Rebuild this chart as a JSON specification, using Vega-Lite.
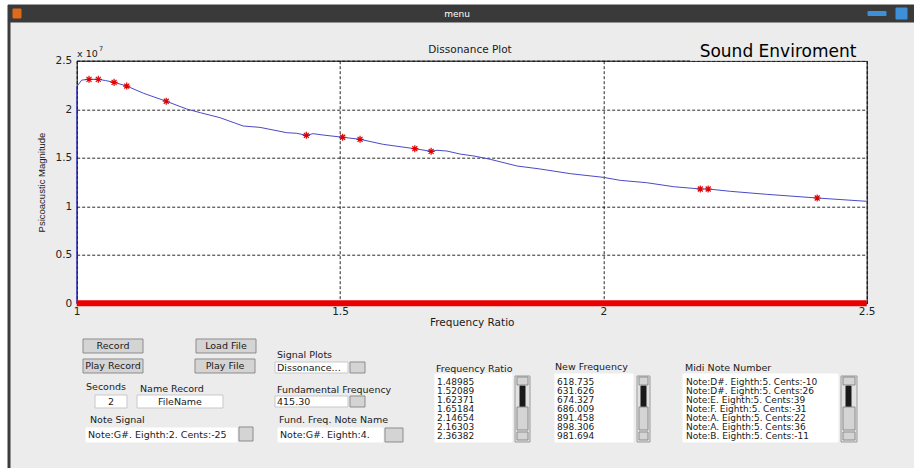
{
  "$schema": "https://vega.github.io/schema/vega-lite/v6.json",
  "autosize": {"type": "none"},
  "width": 790,
  "height": 242.6,
  "padding": {"left": 76.7, "top": 60.7, "right": 47.3, "bottom": 164.7},
  "background": "#ECECEC",
  "config": {
    "view": {"fill": "white", "stroke": "#000000", "strokeWidth": 1},
    "font": "DejaVu Sans",
    "text": {"font": "DejaVu Sans", "baseline": "middle", "color": "#1A1A1A"}
  },
  "datasets": {
    "curve": [
      {"i": 0, "ratio": 1.0, "magnitude": 0},
      {"i": 1, "ratio": 1.0, "magnitude": 22320000},
      {"i": 2, "ratio": 1.0095, "magnitude": 23000000},
      {"i": 3, "ratio": 1.0234, "magnitude": 23080000},
      {"i": 4, "ratio": 1.041, "magnitude": 23080000},
      {"i": 5, "ratio": 1.055, "magnitude": 22950000},
      {"i": 6, "ratio": 1.071, "magnitude": 22770000},
      {"i": 7, "ratio": 1.095, "magnitude": 22390000},
      {"i": 8, "ratio": 1.127, "magnitude": 21640000},
      {"i": 9, "ratio": 1.17, "magnitude": 20820000},
      {"i": 10, "ratio": 1.209, "magnitude": 20020000},
      {"i": 11, "ratio": 1.235, "magnitude": 19640000},
      {"i": 12, "ratio": 1.272, "magnitude": 19130000},
      {"i": 13, "ratio": 1.316, "magnitude": 18270000},
      {"i": 14, "ratio": 1.348, "magnitude": 18130000},
      {"i": 15, "ratio": 1.399, "magnitude": 17580000},
      {"i": 16, "ratio": 1.418, "magnitude": 17520000},
      {"i": 17, "ratio": 1.436, "magnitude": 17310000},
      {"i": 18, "ratio": 1.449, "magnitude": 17480000},
      {"i": 19, "ratio": 1.468, "magnitude": 17340000},
      {"i": 20, "ratio": 1.505, "magnitude": 17110000},
      {"i": 21, "ratio": 1.538, "magnitude": 16900000},
      {"i": 22, "ratio": 1.582, "magnitude": 16380000},
      {"i": 23, "ratio": 1.642, "magnitude": 15930000},
      {"i": 24, "ratio": 1.673, "magnitude": 15660000},
      {"i": 25, "ratio": 1.684, "magnitude": 15770000},
      {"i": 26, "ratio": 1.703, "magnitude": 15690000},
      {"i": 27, "ratio": 1.728, "magnitude": 15380000},
      {"i": 28, "ratio": 1.754, "magnitude": 15180000},
      {"i": 29, "ratio": 1.785, "magnitude": 14840000},
      {"i": 30, "ratio": 1.836, "magnitude": 14150000},
      {"i": 31, "ratio": 1.88, "magnitude": 13840000},
      {"i": 32, "ratio": 1.937, "magnitude": 13360000},
      {"i": 33, "ratio": 2.0, "magnitude": 12980000},
      {"i": 34, "ratio": 2.032, "magnitude": 12670000},
      {"i": 35, "ratio": 2.082, "magnitude": 12430000},
      {"i": 36, "ratio": 2.133, "magnitude": 12020000},
      {"i": 37, "ratio": 2.184, "magnitude": 11780000},
      {"i": 38, "ratio": 2.199, "magnitude": 11780000},
      {"i": 39, "ratio": 2.241, "magnitude": 11540000},
      {"i": 40, "ratio": 2.31, "magnitude": 11230000},
      {"i": 41, "ratio": 2.406, "magnitude": 10850000},
      {"i": 42, "ratio": 2.5, "magnitude": 10510000}
    ],
    "peaks": [
      {"ratio": 1.0234, "magnitude": 23080000},
      {"ratio": 1.041, "magnitude": 23080000},
      {"ratio": 1.071, "magnitude": 22770000},
      {"ratio": 1.095, "magnitude": 22390000},
      {"ratio": 1.17, "magnitude": 20820000},
      {"ratio": 1.436, "magnitude": 17310000},
      {"ratio": 1.505, "magnitude": 17110000},
      {"ratio": 1.538, "magnitude": 16900000},
      {"ratio": 1.642, "magnitude": 15930000},
      {"ratio": 1.673, "magnitude": 15660000},
      {"ratio": 2.184, "magnitude": 11780000},
      {"ratio": 2.199, "magnitude": 11780000},
      {"ratio": 2.406, "magnitude": 10850000}
    ],
    "zeros": [
      {"from": 1.0, "to": 2.5, "magnitude": 0}
    ],
    "boxes": [
      {"x0": 0, "x1": 914, "y0": 0, "y1": 5, "kind": "white"},
      {"x0": 0, "x1": 8, "y0": 0, "y1": 468, "kind": "white"},
      {"x0": 8, "x1": 914, "y0": 5, "y1": 22, "kind": "chrome"},
      {"x0": 8, "x1": 10, "y0": 22, "y1": 468, "kind": "frame"},
      {"x0": 13, "x1": 21, "y0": 9, "y1": 18, "kind": "icon"},
      {"x0": 868, "x1": 886, "y0": 11.5, "y1": 15.5, "kind": "blue"},
      {"x0": 896, "x1": 907, "y0": 8, "y1": 19, "kind": "blue"},
      {"x0": 690, "x1": 867, "y0": 40, "y1": 60.2, "kind": "panel"},
      {"x0": 83, "x1": 143, "y0": 339, "y1": 353, "kind": "button"},
      {"x0": 83, "x1": 143, "y0": 359, "y1": 373, "kind": "button"},
      {"x0": 196, "x1": 256, "y0": 339, "y1": 353, "kind": "button"},
      {"x0": 195, "x1": 255, "y0": 359, "y1": 373, "kind": "button"},
      {"x0": 95, "x1": 127, "y0": 395, "y1": 408, "kind": "edit"},
      {"x0": 137, "x1": 223, "y0": 395, "y1": 408, "kind": "edit"},
      {"x0": 86, "x1": 237, "y0": 428, "y1": 442, "kind": "field"},
      {"x0": 278, "x1": 383, "y0": 428, "y1": 442, "kind": "field"},
      {"x0": 239, "x1": 253, "y0": 427, "y1": 441, "kind": "button"},
      {"x0": 385, "x1": 403, "y0": 428, "y1": 442, "kind": "button"},
      {"x0": 275, "x1": 348, "y0": 362, "y1": 373, "kind": "edit"},
      {"x0": 275, "x1": 348, "y0": 396, "y1": 407, "kind": "edit"},
      {"x0": 350, "x1": 365, "y0": 362, "y1": 373, "kind": "button"},
      {"x0": 350, "x1": 365, "y0": 396, "y1": 407, "kind": "button"},
      {"x0": 435, "x1": 512, "y0": 374, "y1": 442, "kind": "field"},
      {"x0": 555, "x1": 633, "y0": 374, "y1": 442, "kind": "field"},
      {"x0": 683, "x1": 838, "y0": 374, "y1": 442, "kind": "field"},
      {"x0": 515, "x1": 530, "y0": 376, "y1": 442, "kind": "scroll"},
      {"x0": 637, "x1": 650, "y0": 376, "y1": 442, "kind": "scroll"},
      {"x0": 841, "x1": 857, "y0": 376, "y1": 442, "kind": "scroll"},
      {"x0": 520, "x1": 525, "y0": 386, "y1": 407, "kind": "thumb"},
      {"x0": 641, "x1": 646, "y0": 386, "y1": 407, "kind": "thumb"},
      {"x0": 846, "x1": 851, "y0": 386, "y1": 407, "kind": "thumb"},
      {"x0": 517, "x1": 528, "y0": 407, "y1": 430, "kind": "button"},
      {"x0": 639, "x1": 648, "y0": 407, "y1": 430, "kind": "button"},
      {"x0": 843, "x1": 855, "y0": 407, "y1": 430, "kind": "button"},
      {"x0": 517, "x1": 528, "y0": 377, "y1": 385, "kind": "button"},
      {"x0": 639, "x1": 648, "y0": 377, "y1": 385, "kind": "button"},
      {"x0": 843, "x1": 855, "y0": 377, "y1": 385, "kind": "button"},
      {"x0": 517, "x1": 528, "y0": 432, "y1": 440, "kind": "button"},
      {"x0": 639, "x1": 648, "y0": 432, "y1": 440, "kind": "button"},
      {"x0": 843, "x1": 855, "y0": 432, "y1": 440, "kind": "button"}
    ],
    "texts": [
      {"x": 457, "y": 13.5, "text": "menu", "kind": "bar"},
      {"x": 778, "y": 51.5, "text": "Sound Enviroment", "kind": "heading"},
      {"x": 470, "y": 50, "text": "Dissonance Plot", "kind": "title"},
      {"x": 113, "y": 346, "text": "Record", "kind": "button"},
      {"x": 113, "y": 366, "text": "Play Record", "kind": "button"},
      {"x": 226, "y": 346, "text": "Load File", "kind": "button"},
      {"x": 225, "y": 366, "text": "Play File", "kind": "button"},
      {"x": 111, "y": 402, "text": "2", "kind": "button"},
      {"x": 180, "y": 402, "text": "FileName", "kind": "button"},
      {"x": 77, "y": 54, "text": "x 10", "kind": "exp"},
      {"x": 99, "y": 48.5, "text": "7", "kind": "sup"},
      {"x": 86, "y": 387, "text": "Seconds", "kind": "label"},
      {"x": 140, "y": 389, "text": "Name Record", "kind": "label"},
      {"x": 90, "y": 420, "text": "Note Signal", "kind": "label"},
      {"x": 88, "y": 434.5, "text": "Note:G#.  Eighth:2. Cents:-25", "kind": "label"},
      {"x": 277, "y": 354.5, "text": "Signal Plots", "kind": "label"},
      {"x": 277, "y": 367.5, "text": "Dissonance...", "kind": "label"},
      {"x": 277, "y": 390, "text": "Fundamental Frequency", "kind": "label"},
      {"x": 277, "y": 401.5, "text": "415.30", "kind": "label"},
      {"x": 279, "y": 420, "text": "Fund. Freq. Note Name", "kind": "label"},
      {"x": 280, "y": 434.5, "text": "Note:G#.  Eighth:4.", "kind": "label"},
      {"x": 436, "y": 368.5, "text": "Frequency Ratio", "kind": "label"},
      {"x": 555, "y": 367, "text": "New Frequency", "kind": "label"},
      {"x": 685, "y": 368, "text": "Midi Note Number", "kind": "label"},
      {"x": 437, "y": 382.3, "text": "1.48985", "kind": "item"},
      {"x": 437, "y": 391.3, "text": "1.52089", "kind": "item"},
      {"x": 437, "y": 400.3, "text": "1.62371", "kind": "item"},
      {"x": 437, "y": 409.3, "text": "1.65184", "kind": "item"},
      {"x": 437, "y": 418.3, "text": "2.14654", "kind": "item"},
      {"x": 437, "y": 427.3, "text": "2.16303", "kind": "item"},
      {"x": 437, "y": 436.3, "text": "2.36382", "kind": "item"},
      {"x": 557, "y": 382.3, "text": "618.735", "kind": "item"},
      {"x": 557, "y": 391.3, "text": "631.626", "kind": "item"},
      {"x": 557, "y": 400.3, "text": "674.327", "kind": "item"},
      {"x": 557, "y": 409.3, "text": "686.009", "kind": "item"},
      {"x": 557, "y": 418.3, "text": "891.458", "kind": "item"},
      {"x": 557, "y": 427.3, "text": "898.306", "kind": "item"},
      {"x": 557, "y": 436.3, "text": "981.694", "kind": "item"},
      {"x": 686, "y": 382.3, "text": "Note:D#.  Eighth:5. Cents:-10", "kind": "item"},
      {"x": 686, "y": 391.3, "text": "Note:D#.  Eighth:5. Cents:26", "kind": "item"},
      {"x": 686, "y": 400.3, "text": "Note:E.  Eighth:5. Cents:39", "kind": "item"},
      {"x": 686, "y": 409.3, "text": "Note:F.  Eighth:5. Cents:-31", "kind": "item"},
      {"x": 686, "y": 418.3, "text": "Note:A.  Eighth:5. Cents:22", "kind": "item"},
      {"x": 686, "y": 427.3, "text": "Note:A.  Eighth:5. Cents:36", "kind": "item"},
      {"x": 686, "y": 436.3, "text": "Note:B.  Eighth:5. Cents:-11", "kind": "item"}
    ]
  },
  "resolve": {"scale": {"x": "independent", "y": "independent"}},
  "layer": [
    {
      "layer": [
        {
          "data": {"name": "curve"},
          "mark": {"type": "line", "color": "#4A4AC6", "strokeWidth": 1},
          "encoding": {
            "x": {
              "field": "ratio", "type": "quantitative",
              "scale": {"domain": [1, 2.5], "nice": false, "zero": false},
              "axis": {
                "values": [1, 1.5, 2, 2.5], "labelExpr": "datum.value + ''",
                "title": "Frequency Ratio", "grid": true, "gridDash": [3, 2], "gridColor": "#000000", "gridOpacity": 0.85,
                "domain": false, "ticks": false, "labelPadding": 3, "labelFontSize": 10.5, "labelFont": "DejaVu Sans",
                "labelColor": "#222222", "labelFlush": false, "titleFont": "DejaVu Sans", "titleFontSize": 10.5,
                "titleFontWeight": "normal", "titleColor": "#1a1a1a", "titlePadding": 1
              }
            },
            "y": {
              "field": "magnitude", "type": "quantitative",
              "scale": {"domain": [0, 25000000], "nice": false, "zero": false},
              "axis": {
                "values": [0, 5000000, 10000000, 15000000, 20000000, 25000000],
                "labelExpr": "datum.value / 10000000 + ''",
                "title": "Psicoacustic Magnitude", "grid": true, "gridDash": [3, 2], "gridColor": "#000000", "gridOpacity": 0.85,
                "domain": false, "ticks": false, "labelPadding": 5, "labelFontSize": 10.5, "labelFont": "DejaVu Sans",
                "labelColor": "#222222", "labelFlush": false, "titleFont": "Liberation Sans", "titleFontSize": 9.5,
                "titleFontWeight": "normal", "titleColor": "#1a1a1a", "titlePadding": 9
              }
            },
            "order": {"field": "i", "type": "quantitative"}
          }
        },
        {
          "data": {"name": "zeros"},
          "mark": {"type": "rule", "color": "#E80000", "strokeWidth": 6},
          "encoding": {
            "x": {"field": "from", "type": "quantitative"},
            "x2": {"field": "to"},
            "y": {"field": "magnitude", "type": "quantitative"}
          }
        },
        {
          "data": {"name": "peaks"},
          "mark": {"type": "point", "shape": "M-1,0L1,0M0,-1L0,1M-0.7,-0.7L0.7,0.7M-0.7,0.7L0.7,-0.7", "filled": false, "color": "#E00000", "strokeWidth": 1.2, "size": 50, "opacity": 1},
          "encoding": {
            "x": {"field": "ratio", "type": "quantitative"},
            "y": {"field": "magnitude", "type": "quantitative"}
          }
        }
      ]
    },
    {
      "encoding": {
        "x": {"field": "x", "type": "quantitative", "scale": {"domain": [0, 914], "range": [-76.7, 837.3], "nice": false, "zero": false}, "axis": null},
        "y": {"field": "y", "type": "quantitative", "scale": {"domain": [0, 468], "range": [-60.7, 407.3], "nice": false, "zero": false}, "axis": null}
      },
      "layer": [
        {
          "data": {"name": "boxes"},
          "mark": {"type": "rect", "strokeWidth": 1},
          "encoding": {
            "x": {"field": "x0", "type": "quantitative"},
            "x2": {"field": "x1"},
            "y": {"field": "y0", "type": "quantitative"},
            "y2": {"field": "y1"},
            "fill": {
              "field": "kind", "type": "nominal", "legend": null,
              "scale": {"domain": ["white", "chrome", "frame", "icon", "blue", "panel", "button", "edit", "field", "scroll", "thumb"],
                        "range": ["#FFFFFF", "#3A3A3A", "#3C3C3C", "#E06A1A", "#3D8FD8", "#ECECEC", "#D4D4D4", "#FFFFFF", "#FFFFFF", "#E2E2E2", "#1A1A1A"]}
            },
            "stroke": {
              "field": "kind", "type": "nominal", "legend": null,
              "scale": {"domain": ["white", "chrome", "frame", "icon", "blue", "panel", "button", "edit", "field", "scroll", "thumb"],
                        "range": ["#FFFFFF", "#3A3A3A", "#3C3C3C", "#E06A1A", "#3D8FD8", "#ECECEC", "#8C8C8C", "#C8C8C8", "#FFFFFF", "#9A9A9A", "#1A1A1A"]}
            }
          }
        },
        {
          "data": {"name": "texts"},
          "transform": [{"filter": "datum.kind == 'bar'"}],
          "mark": {"type": "text", "align": "center", "fontSize": 9, "color": "#FFFFFF"},
          "encoding": {"text": {"field": "text"}}
        },
        {
          "data": {"name": "texts"},
          "transform": [{"filter": "datum.kind == 'heading'"}],
          "mark": {"type": "text", "align": "center", "fontSize": 17, "color": "#000000"},
          "encoding": {"text": {"field": "text"}}
        },
        {
          "data": {"name": "texts"},
          "transform": [{"filter": "datum.kind == 'title'"}],
          "mark": {"type": "text", "align": "center", "fontSize": 10.5},
          "encoding": {"text": {"field": "text"}}
        },
        {
          "data": {"name": "texts"},
          "transform": [{"filter": "datum.kind == 'button'"}],
          "mark": {"type": "text", "align": "center", "fontSize": 9.5},
          "encoding": {"text": {"field": "text"}}
        },
        {
          "data": {"name": "texts"},
          "transform": [{"filter": "datum.kind == 'label'"}],
          "mark": {"type": "text", "align": "left", "fontSize": 9.5},
          "encoding": {"text": {"field": "text"}}
        },
        {
          "data": {"name": "texts"},
          "transform": [{"filter": "datum.kind == 'item'"}],
          "mark": {"type": "text", "align": "left", "fontSize": 9},
          "encoding": {"text": {"field": "text"}}
        },
        {
          "data": {"name": "texts"},
          "transform": [{"filter": "datum.kind == 'exp'"}],
          "mark": {"type": "text", "align": "left", "fontSize": 9.5},
          "encoding": {"text": {"field": "text"}}
        },
        {
          "data": {"name": "texts"},
          "transform": [{"filter": "datum.kind == 'sup'"}],
          "mark": {"type": "text", "align": "left", "fontSize": 6.5},
          "encoding": {"text": {"field": "text"}}
        }
      ]
    }
  ]
}
